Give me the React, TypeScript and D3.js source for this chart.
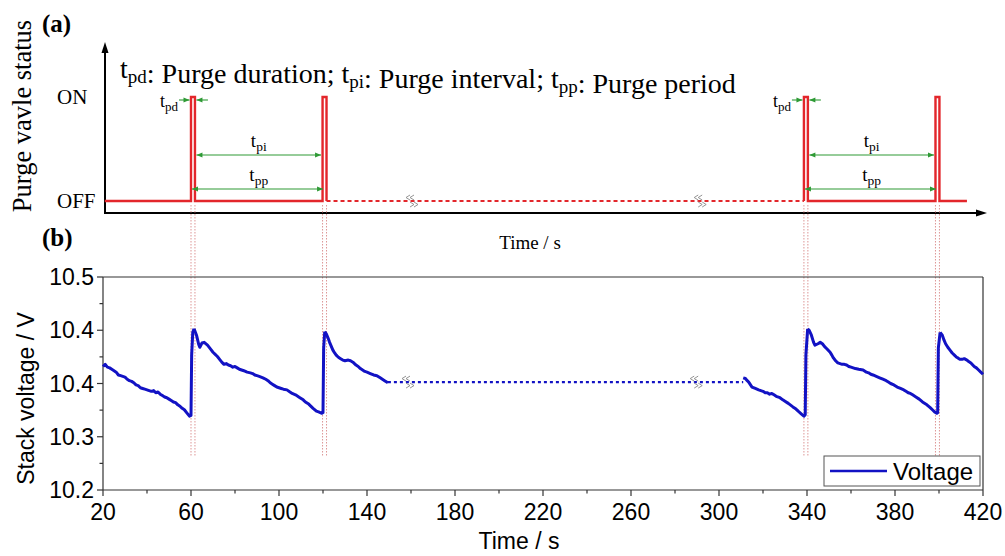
import React from "react";
import * as d3 from "d3";

// ---------- data ----------
const xTicks = [20, 60, 100, 140, 180, 220, 260, 300, 340, 380, 420];
const xMinorTicks = [40, 80, 120, 160, 200, 240, 280, 320, 360, 400];
const yTicks = [10.2, 10.275, 10.35, 10.425, 10.5];
const yTickLabels = ["10.2", "10.3", "10.4", "10.4", "10.5"];
const yMinorTicks = [10.2375, 10.3125, 10.3875, 10.4625];

const pulseStarts = [60, 119.8, 338.6, 398.4];
const pulseDuration = 1.8;
const statusStart = 20.8;
const statusEnd = 412.7;
const breakTimes = [160, 291];

const seg1: [number, number][] = [
  [20, 10.374], [21, 10.377], [22, 10.373], [23, 10.372], [24, 10.37], [25, 10.368], [26, 10.366],
  [27, 10.362], [28, 10.361], [29, 10.36], [30, 10.359], [31, 10.356], [32, 10.354], [33, 10.353],
  [34, 10.351], [35, 10.348], [36, 10.347], [37, 10.344], [38, 10.343], [39, 10.342], [40, 10.341],
  [41, 10.34], [42, 10.339], [43, 10.34], [44, 10.337], [45, 10.338], [46, 10.335], [47, 10.333],
  [48, 10.331], [49, 10.33], [50, 10.328], [51, 10.326], [52, 10.324], [53, 10.323], [54, 10.32],
  [55, 10.318], [56, 10.315], [57, 10.313], [58, 10.309], [59.3, 10.304], [60, 10.305],
  [60.3, 10.39], [60.8, 10.422], [61.4, 10.427],
];
const seg2: [number, number][] = [
  [61.4, 10.427], [62.5, 10.418], [63.5, 10.405], [64, 10.401], [65, 10.407], [66, 10.408],
  [67.5, 10.404], [69, 10.398], [70, 10.394], [71, 10.391], [72, 10.388], [73, 10.384], [74, 10.38],
  [75, 10.377], [76, 10.378], [77, 10.376], [78, 10.375], [79, 10.373], [80, 10.374], [81, 10.372],
  [82, 10.37], [83, 10.369], [84, 10.368], [85.5, 10.366], [87, 10.365], [88, 10.364], [89, 10.362],
  [90, 10.361], [91, 10.36], [92.7, 10.358], [94, 10.356], [95, 10.354], [96, 10.351], [97, 10.349],
  [98, 10.347], [99, 10.345], [100, 10.344], [101, 10.343], [102, 10.342], [103.6, 10.341],
  [105, 10.338], [106, 10.336], [107.5, 10.334], [109.5, 10.33], [111, 10.327], [112, 10.324],
  [113.5, 10.321], [115.5, 10.315], [117, 10.311], [118, 10.31], [119.5, 10.308], [120, 10.309],
  [120.3, 10.4], [120.8, 10.423],
];
const seg3: [number, number][] = [
  [120.8, 10.423], [121.5, 10.42], [122.3, 10.414], [123, 10.408], [124.5, 10.397], [125.3, 10.393],
  [126, 10.39], [127, 10.387], [128, 10.385], [129, 10.383], [130, 10.382], [131.5, 10.383],
  [132.5, 10.382], [133.6, 10.38], [135, 10.376], [136, 10.374], [137, 10.371], [138, 10.369],
  [139, 10.367], [140, 10.366], [141.5, 10.364], [143, 10.362], [144.5, 10.361], [146, 10.358],
  [147, 10.356], [148, 10.354], [149.5, 10.351],
];
const bridge: [number, number][] = [[149.5, 10.352], [311, 10.352]];
const seg4: [number, number][] = [
  [311, 10.358], [312, 10.357], [312.5, 10.355], [313.5, 10.352], [315, 10.345], [316.5, 10.343],
  [318, 10.341], [319, 10.34], [320, 10.339], [321, 10.337], [322, 10.337], [323, 10.335],
  [324, 10.336], [325, 10.334], [326, 10.332], [327.7, 10.33], [329, 10.327], [330, 10.325],
  [331.5, 10.322], [333.6, 10.317], [335, 10.314], [336, 10.311], [337.5, 10.307], [338.6, 10.304],
  [339.2, 10.306], [339.5, 10.39], [340.3, 10.427],
];
const seg5: [number, number][] = [
  [340.3, 10.427], [341, 10.425], [342, 10.418], [343, 10.408], [343.6, 10.404], [345, 10.406],
  [346, 10.408], [347, 10.406], [348, 10.402], [349, 10.399], [350.5, 10.394], [351.3, 10.39],
  [352, 10.386], [353, 10.382], [354, 10.379], [355, 10.378], [356, 10.377], [357, 10.377],
  [358, 10.376], [359, 10.374], [360, 10.373], [361, 10.372], [362, 10.371], [363.5, 10.37],
  [365.5, 10.369], [367, 10.366], [368, 10.365], [369, 10.363], [370, 10.362], [371.5, 10.36],
  [373, 10.358], [374.5, 10.356], [376, 10.354], [377, 10.352], [378, 10.35], [379.5, 10.348],
  [381, 10.345], [382.5, 10.343], [384, 10.341], [385, 10.339], [386, 10.337], [387, 10.336],
  [388, 10.334], [389.5, 10.331], [391, 10.328], [392.5, 10.324], [394.5, 10.32], [396, 10.316],
  [397, 10.313], [398, 10.31], [399, 10.308], [399.4, 10.309], [399.7, 10.4], [400.5, 10.422],
];
const seg6: [number, number][] = [
  [400.5, 10.422], [401.5, 10.418], [402.3, 10.411], [403, 10.406], [404, 10.401], [405, 10.397],
  [406, 10.393], [407, 10.39], [408, 10.387], [408.6, 10.386], [409.5, 10.384], [410.5, 10.384],
  [411.5, 10.385], [412.7, 10.383], [413.5, 10.381], [414.5, 10.379], [416, 10.374], [417, 10.372],
  [418, 10.369], [419, 10.366], [420, 10.363],
];
const solidSegments = [seg1, seg2, seg3, seg4, seg5, seg6];

// ---------- layout ----------
const W = 1005;
const H = 556;
const SERIF = "'Liberation Serif', 'Times New Roman', serif";
const SANS = "'Liberation Sans', Arial, sans-serif";
const RED = "#e3262b";
const GREEN = "#2e9a35";
const BLUE = "#1212c4";

const x = d3.scaleLinear().domain([20, 420]).range([103, 983]);
const y = d3.scaleLinear().domain([10.2, 10.5]).range([490, 277]);
const yStatus = d3.scaleLinear().domain([0, 1]).range([201, 97]);

const line = d3
  .line<[number, number]>()
  .x((d) => x(d[0]))
  .y((d) => y(d[1]));

const statusLine = d3
  .line<[number, number]>()
  .x((d) => x(d[0]))
  .y((d) => yStatus(d[1]));

function pulsePath(t0: number, tPrevEnd: number): [number, number][] {
  return [
    [tPrevEnd, 0],
    [t0, 0],
    [t0, 1],
    [t0 + pulseDuration, 1],
    [t0 + pulseDuration, 0],
  ];
}

const statusSolidA: [number, number][] = [
  ...pulsePath(pulseStarts[0], statusStart),
  ...pulsePath(pulseStarts[1], pulseStarts[0] + pulseDuration),
];
const statusDashed: [number, number][] = [
  [pulseStarts[1] + pulseDuration, 0],
  [pulseStarts[2], 0],
];
const statusSolidB: [number, number][] = [
  ...pulsePath(pulseStarts[2], pulseStarts[2]),
  ...pulsePath(pulseStarts[3], pulseStarts[2] + pulseDuration),
  [statusEnd, 0],
];

function Sub({ main, sub, size, subSize, shift }: { main: string; sub: string; size: number; subSize: number; shift: number }) {
  return (
    <>
      <tspan fontSize={size}>{main}</tspan>
      <tspan fontSize={subSize} dy={shift}>{sub}</tspan>
      <tspan fontSize={size} dy={-shift}>{""}</tspan>
    </>
  );
}

function Arrow({ x1, x2, yy, both }: { x1: number; x2: number; yy: number; both?: boolean }) {
  const dir = x2 > x1 ? 1 : -1;
  const head = (xx: number, d: number) =>
    `M${xx},${yy} L${xx - d * 6},${yy - 2.5} L${xx - d * 6},${yy + 2.5} Z`;
  return (
    <g>
      <line x1={x1} x2={x2} y1={yy} y2={yy} stroke={GREEN} strokeWidth={1.1} />
      <path d={head(x2, dir)} fill={GREEN} />
      {both && <path d={head(x1, -dir)} fill={GREEN} />}
    </g>
  );
}

function BreakMark({ cx, cy }: { cx: number; cy: number }) {
  return (
    <g fill="none" stroke="#888" strokeWidth={0.9}>
      <path d={`M${cx - 1},${cy - 6} L${cx - 5},${cy - 3.5} L${cx - 1},${cy - 1}`} />
      <path d={`M${cx + 3},${cy - 6} L${cx - 1},${cy - 3.5} L${cx + 3},${cy - 1}`} />
      <path d={`M${cx - 1},${cy + 1} L${cx + 3},${cy + 3.5} L${cx - 1},${cy + 6}`} />
      <path d={`M${cx + 3},${cy + 1} L${cx + 7},${cy + 3.5} L${cx + 3},${cy + 6}`} />
    </g>
  );
}

export default function App() {
  const axisX0 = x(20) + 2;
  const topAxisY = 213;
  const p = pulseStarts.map((t) => ({ s: x(t), e: x(t + pulseDuration) }));
  return (
    <svg width={W} height={H} style={{ position: "absolute", left: 0, top: 0, background: "#fff" }}>
      <rect width={W} height={H} fill="#fff" />

      {/* ---------- panel (a) ---------- */}
      <text x={42} y={32} fontFamily={SERIF} fontWeight="bold" fontSize={25}>(a)</text>
      <text
        transform={`translate(31,116) rotate(-90)`}
        textAnchor="middle"
        fontFamily={SERIF}
        fontSize={26.5}
      >
        Purge vavle status
      </text>
      <text x={57} y={104} fontFamily={SERIF} fontSize={21}>ON</text>
      <text x={57} y={208} fontFamily={SERIF} fontSize={21}>OFF</text>

      <text x={120} y={78} fontFamily={SERIF} fontSize={28}>
        <Sub main="t" sub="pd" size={28} subSize={19} shift={5} />
        <tspan>: Purge duration; </tspan>
        <Sub main="t" sub="pi" size={28} subSize={19} shift={5} />
        <tspan>: Purge interval; </tspan>
        <Sub main="t" sub="pp" size={28} subSize={19} shift={5} />
        <tspan>: Purge period</tspan>
      </text>

      {/* top axes */}
      <line x1={axisX0} x2={axisX0} y1={topAxisY + 1} y2={50} stroke="#000" strokeWidth={2} />
      <path d={`M${axisX0},${42} L${axisX0 - 3.5},${53} L${axisX0 + 3.5},${53} Z`} fill="#000" />
      <line x1={axisX0 - 1} x2={978} y1={topAxisY} y2={topAxisY} stroke="#000" strokeWidth={2} />
      <path d={`M${987},${topAxisY} L${976},${topAxisY - 3.5} L${976},${topAxisY + 3.5} Z`} fill="#000" />
      <text x={530} y={249} textAnchor="middle" fontFamily={SERIF} fontSize={19}>Time / s</text>

      {/* dotted guide lines */}
      {p.map((q, i) => (
        <g key={i} stroke="#d98a8a" strokeWidth={0.9} strokeDasharray="1.5,1.5">
          <line x1={q.s} x2={q.s} y1={205} y2={457} />
          <line x1={q.e} x2={q.e} y1={205} y2={457} />
        </g>
      ))}

      {/* status line */}
      <path d={statusLine(statusSolidA) ?? ""} fill="none" stroke={RED} strokeWidth={2.4} />
      <path d={statusLine(statusDashed) ?? ""} fill="none" stroke={RED} strokeWidth={2.2} strokeDasharray="4,3" />
      <path d={statusLine(statusSolidB) ?? ""} fill="none" stroke={RED} strokeWidth={2.4} />
      {breakTimes.map((t, i) => (
        <BreakMark key={i} cx={x(t)} cy={yStatus(0)} />
      ))}

      {/* annotations */}
      {[0, 2].map((k) => {
        const a = p[k];
        const b = p[k + 1];
        const mid = (a.e + b.s) / 2;
        return (
          <g key={k}>
            <text x={a.s - 13} y={107} textAnchor="end" fontFamily={SERIF} fontSize={18}>
              <Sub main="t" sub="pd" size={18} subSize={13} shift={3.5} />
            </text>
            <Arrow x1={a.s - 12} x2={a.s - 1.5} yy={100} />
            <Arrow x1={a.e + 13} x2={a.e + 1.5} yy={100} />
            <Arrow x1={a.e + 1.5} x2={b.s - 1.5} yy={155} both />
            <text x={mid} y={147} textAnchor="middle" fontFamily={SERIF} fontSize={19}>
              <Sub main="t" sub="pi" size={19} subSize={13.5} shift={3.5} />
            </text>
            <Arrow x1={a.s + 1} x2={b.s + 0.5} yy={189} both />
            <text x={mid} y={181} textAnchor="middle" fontFamily={SERIF} fontSize={19}>
              <Sub main="t" sub="pp" size={19} subSize={13.5} shift={3.5} />
            </text>
          </g>
        );
      })}

      {/* ---------- panel (b) ---------- */}
      <text x={42} y={246} fontFamily={SERIF} fontWeight="bold" fontSize={25}>(b)</text>

      <g stroke="#333" strokeWidth={1.2} fill="none">
        <line x1={x(20)} x2={x(420)} y1={y(10.5)} y2={y(10.5)} />
        <line x1={x(420)} x2={x(420)} y1={y(10.5)} y2={y(10.2)} />
        <line x1={x(20)} x2={x(20)} y1={y(10.5)} y2={y(10.2)} />
        <line x1={x(20)} x2={x(420)} y1={y(10.2)} y2={y(10.2)} />
      </g>
      {xTicks.map((t) => (
        <g key={`xt${t}`}>
          <line x1={x(t)} x2={x(t)} y1={y(10.2)} y2={y(10.2) + 6} stroke="#333" strokeWidth={1.2} />
          <text x={x(t)} y={520} textAnchor="middle" fontFamily={SANS} fontSize={23}>{t}</text>
        </g>
      ))}
      {xMinorTicks.map((t) => (
        <line key={`xm${t}`} x1={x(t)} x2={x(t)} y1={y(10.2)} y2={y(10.2) + 3.5} stroke="#333" strokeWidth={1.2} />
      ))}
      {yTicks.map((v, i) => (
        <g key={`yt${v}`}>
          <line x1={x(20) - 6} x2={x(20)} y1={y(v)} y2={y(v)} stroke="#333" strokeWidth={1.2} />
          <text x={x(20) - 9} y={y(v) + 8} textAnchor="end" fontFamily={SANS} fontSize={23}>{yTickLabels[i]}</text>
        </g>
      ))}
      {yMinorTicks.map((v) => (
        <line key={`ym${v}`} x1={x(20) - 3.5} x2={x(20)} y1={y(v)} y2={y(v)} stroke="#333" strokeWidth={1.2} />
      ))}
      <text
        transform={`translate(34,${(y(10.2) + y(10.5)) / 2 + 15}) rotate(-90)`}
        textAnchor="middle"
        fontFamily={SANS}
        fontSize={23}
      >
        Stack voltage / V
      </text>
      <text x={x(220) - 24} y={549} textAnchor="middle" fontFamily={SANS} fontSize={23}>Time / s</text>

      {/* voltage */}
      {solidSegments.map((s, i) => (
        <path key={i} d={line(s) ?? ""} fill="none" stroke={BLUE} strokeWidth={3} strokeLinejoin="round" />
      ))}
      <path d={line(bridge) ?? ""} fill="none" stroke={BLUE} strokeWidth={2.4} strokeDasharray="3,3" />
      {breakTimes.map((t, i) => (
        <BreakMark key={`b${i}`} cx={x(t) - 4} cy={y(10.352)} />
      ))}

      {/* legend */}
      <rect x={824} y={456} width={156} height={30} fill="#fff" stroke="#555" strokeWidth={1} />
      <line x1={830} x2={887} y1={471} y2={471} stroke={BLUE} strokeWidth={2.4} />
      <text x={893} y={480} fontFamily={SANS} fontSize={24}>Voltage</text>
    </svg>
  );
}
